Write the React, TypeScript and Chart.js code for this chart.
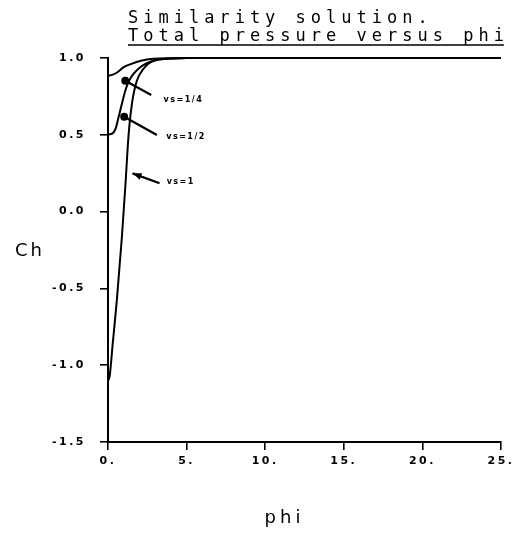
import React, { useEffect, useRef } from "react";
import { Chart, registerables } from "chart.js";

Chart.register(...registerables);

// ---- data ----
const phiQuarter = [0, 0.27, 0.6, 1.0, 1.45, 2.1, 2.9, 4, 5, 7, 10, 15, 20, 25];
const chQuarter = [0.885, 0.89, 0.907, 0.94, 0.96, 0.982, 0.995, 0.999, 1.0, 1.0, 1.0, 1.0, 1.0, 1.0];

const phiHalf = [0, 0.35, 0.5, 0.67, 0.88, 1.1, 1.3, 1.62, 2.05, 2.47, 3.1, 4, 5, 7, 10, 15, 20, 25];
const chHalf = [0.5, 0.515, 0.545, 0.614, 0.7, 0.787, 0.842, 0.896, 0.94, 0.966, 0.987, 0.996, 1.0, 1.0, 1.0, 1.0, 1.0, 1.0];

const phiOne = [0, 0.1, 0.3, 0.56, 0.88, 1.1, 1.31, 1.52, 1.83, 2.26, 2.9, 4, 5, 7, 10, 15, 20, 25];
const chOne = [-1.1, -1.075, -0.86, -0.58, -0.17, 0.16, 0.5, 0.7, 0.85, 0.93, 0.982, 0.996, 1.0, 1.0, 1.0, 1.0, 1.0, 1.0];

const xTicks = [0, 5, 10, 15, 20, 25];
const yTicks = [-1.5, -1.0, -0.5, 0.0, 0.5, 1.0];

const titleLines = ["Similarity solution.", "Total pressure versus phi"];
const xAxisTitle = "phi";
const yAxisTitle = "Ch";

// annotations (data coordinates)
const noteLabels = ["vs=1/4", "vs=1/2", "vs=1"];
const noteTextX = [3.53, 3.7, 3.73];
const noteTextY = [0.727, 0.488, 0.195];
const noteTipX = [1.1, 1.03, 1.56];
const noteTipY = [0.852, 0.618, 0.249];
const noteTailX = [2.75, 3.11, 3.28];
const noteTailY = [0.759, 0.499, 0.184];
const noteHead = ["dot", "dot", "arrow"];

const toPoints = (xs: number[], ys: number[]) => xs.map((x, i) => ({ x, y: ys[i] }));

const decorPlugin = {
  id: "decor",
  beforeDraw(chart: any) {
    chart.ctx.letterSpacing = "2.5px";
  },
  afterDraw(chart: any) {
    const { ctx, chartArea, scales } = chart;
    const xs = scales.x;
    const ys = scales.y;
    ctx.save();
    ctx.fillStyle = "#000";
    ctx.strokeStyle = "#000";

    // title
    const sp = 5;
    ctx.font = '17px "DejaVu Sans Mono"';
    ctx.letterSpacing = sp + "px";
    ctx.textAlign = "left";
    ctx.textBaseline = "alphabetic";
    const tx = chartArea.left + 20;
    ctx.fillText(titleLines[0], tx, 23);
    ctx.fillText(titleLines[1], tx, 41);
    const w = ctx.measureText(titleLines[1]).width - sp;
    ctx.lineWidth = 1.5;
    ctx.beginPath();
    ctx.moveTo(tx, 45);
    ctx.lineTo(tx + w, 45);
    ctx.stroke();

    // axis titles
    ctx.font = '18px "DejaVu Sans"';
    ctx.letterSpacing = "3px";
    ctx.textBaseline = "middle";
    ctx.textAlign = "left";
    ctx.fillText(yAxisTitle, 15, (chartArea.top + chartArea.bottom) / 2 + 1);
    ctx.letterSpacing = "4px";
    ctx.textAlign = "center";
    ctx.fillText(xAxisTitle, (chartArea.left + chartArea.right) / 2 - 20, 518);

    // annotations
    ctx.font = 'bold 8px "DejaVu Sans"';
    ctx.letterSpacing = "1.5px";
    ctx.textAlign = "left";
    ctx.textBaseline = "middle";
    for (let i = 0; i < noteLabels.length; i++) {
      const x1 = xs.getPixelForValue(noteTipX[i]);
      const y1 = ys.getPixelForValue(noteTipY[i]);
      const x2 = xs.getPixelForValue(noteTailX[i]);
      const y2 = ys.getPixelForValue(noteTailY[i]);
      ctx.lineWidth = 2.2;
      ctx.beginPath();
      ctx.moveTo(x1, y1);
      ctx.lineTo(x2, y2);
      ctx.stroke();
      if (noteHead[i] === "dot") {
        ctx.beginPath();
        ctx.arc(x1, y1, 4, 0, Math.PI * 2);
        ctx.fill();
      } else {
        const a = Math.atan2(y1 - y2, x1 - x2);
        const L = 9, H = 3.5;
        ctx.beginPath();
        ctx.moveTo(x1, y1);
        ctx.lineTo(x1 - L * Math.cos(a) - H * Math.sin(a), y1 - L * Math.sin(a) + H * Math.cos(a));
        ctx.lineTo(x1 - L * Math.cos(a) + H * Math.sin(a), y1 - L * Math.sin(a) - H * Math.cos(a));
        ctx.closePath();
        ctx.fill();
      }
      ctx.fillText(noteLabels[i], xs.getPixelForValue(noteTextX[i]), ys.getPixelForValue(noteTextY[i]));
    }
    ctx.restore();
    ctx.letterSpacing = "0px";
  },
};

export default function App() {
  const ref = useRef<HTMLCanvasElement | null>(null);
  useEffect(() => {
    if (!ref.current) return;
    const lineStyle = {
      borderColor: "#000",
      borderWidth: 2,
      pointRadius: 0,
      fill: false,
      cubicInterpolationMode: "monotone" as const,
      clip: false as any,
    };
    const tickFont = { family: "DejaVu Sans", weight: "bold" as const, size: 11 };
    const chart = new Chart(ref.current, {
      type: "line",
      data: {
        datasets: [
          { label: "vs=1/4", data: toPoints(phiQuarter, chQuarter), ...lineStyle },
          { label: "vs=1/2", data: toPoints(phiHalf, chHalf), ...lineStyle },
          { label: "vs=1", data: toPoints(phiOne, chOne), ...lineStyle },
        ],
      },
      options: {
        animation: false,
        responsive: false,
        events: [],
        layout: { padding: { top: 58, right: 29, left: 0, bottom: 0 } },
        plugins: { legend: { display: false }, title: { display: false }, tooltip: { enabled: false } },
        scales: {
          x: {
            type: "linear",
            min: 0,
            max: 25,
            afterBuildTicks: (s: any) => {
              s.ticks = xTicks.map((v) => ({ value: v }));
            },
            afterFit: (s: any) => {
              s.height = 92;
            },
            grid: { drawOnChartArea: false, drawTicks: true, tickLength: 8, color: "#000", lineWidth: 1.6 },
            border: { display: true, color: "#000", width: 2 },
            ticks: {
              color: "#000",
              font: tickFont,
              padding: 5,
              maxRotation: 0,
              autoSkip: false,
              callback: (v: any) => `${Number(v)}.`,
            },
          },
          y: {
            type: "linear",
            min: -1.5,
            max: 1.0,
            afterBuildTicks: (s: any) => {
              s.ticks = yTicks.map((v) => ({ value: v }));
            },
            afterFit: (s: any) => {
              s.width = 108;
            },
            grid: { drawOnChartArea: false, drawTicks: true, tickLength: 8, color: "#000", lineWidth: 1.6 },
            border: { display: true, color: "#000", width: 2 },
            ticks: {
              color: "#000",
              font: tickFont,
              padding: 14,
              autoSkip: false,
              callback: (v: any) => Number(v).toFixed(1),
            },
          },
        },
      },
      plugins: [decorPlugin],
    });
    return () => chart.destroy();
  }, []);

  return (
    <div style={{ position: "fixed", left: 0, top: 0, width: 530, height: 534, background: "#fff" }}>
      <canvas ref={ref} width={530} height={534} style={{ display: "block", width: 530, height: 534 }} />
    </div>
  );
}
